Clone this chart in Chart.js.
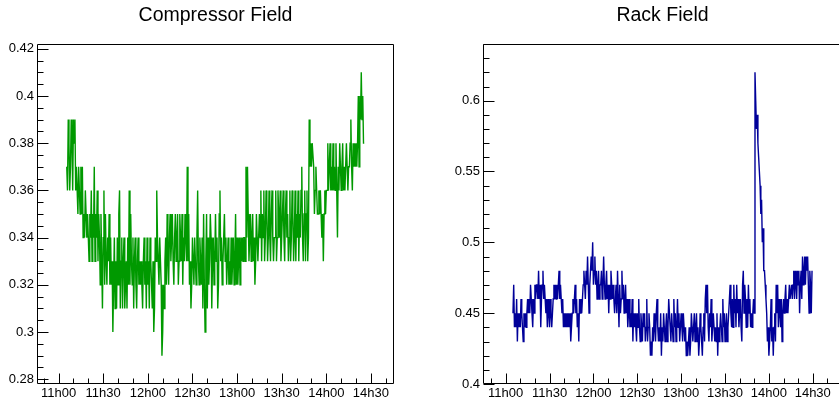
<!DOCTYPE html>
<html>
<head>
<meta charset="utf-8">
<script src="https://cdn.jsdelivr.net/npm/chart.js@4.4.1/dist/chart.umd.min.js"></script>
<style>
  html, body { margin: 0; padding: 0; background: #fff; overflow: hidden; }
  body { width: 839px; height: 399px; position: relative; }
  .pad { position: absolute; top: 0; height: 399px; }
  #leftPad { left: 0; width: 420px; }
  #rightPad { left: 420px; width: 422px; }
</style>
</head>
<body>
<div class="pad" id="leftPad"><canvas id="compressorChart" width="420" height="399"></canvas></div>
<div class="pad" id="rightPad"><canvas id="rackChart" width="422" height="399"></canvas></div>
<script>
// time axis labels (shared by both pads)
const timeTickLabels = ['11h00', '11h30', '12h00', '12h30', '13h00', '13h30', '14h00', '14h30'];

// y tick labels
const compressorYTicks = [0.28, 0.30, 0.32, 0.34, 0.36, 0.38, 0.40, 0.42];
const rackYTicks = [0.40, 0.45, 0.50, 0.55, 0.60];

// samples every 30 s, minutes since midnight of first sample
const compressorStart = 665.5;
const rackStart = 665;
const sampleStep = 0.5;

// readings in hundredths
const compressorField = [
  37,36,39,38,36,37,39,38,36,39,38,39,36,37,36,35,37,36,35,37,
  35,37,34,35,34,36,35,34,35,34,33,35,34,36,33,35,34,37,33,35,
  34,36,33,35,34,32,35,33,31,34,36,32,35,33,32,34,33,35,32,34,
  32,33,30,32,34,31,33,31,34,32,35,36,31,33,34,31,33,34,31,32,
  33,31,34,32,36,32,35,33,32,34,31,33,34,32,31,33,34,32,33,32,
  33,32,31,33,34,32,33,31,34,32,33,31,34,33,32,31,33,30,31,34,
  33,36,34,33,32,34,33,32,29,30,32,31,33,34,32,35,33,32,34,35,
  33,34,35,33,32,34,35,33,34,35,32,33,35,34,33,35,32,34,33,35,
  34,33,37,33,35,32,33,31,32,34,33,32,34,33,32,34,36,33,32,34,
  33,32,34,31,35,32,30,33,35,31,34,32,33,35,34,31,33,34,32,33,
  35,33,34,31,32,35,36,33,34,32,33,34,35,33,34,32,33,34,32,33,
  32,34,32,33,34,32,33,35,32,34,32,33,34,32,34,33,34,33,34,34,
  33,37,34,37,35,33,34,35,33,34,35,33,34,32,33,35,34,33,34,35,
  34,36,33,35,34,36,33,34,36,35,33,34,36,34,33,35,36,34,33,34,
  34,36,33,34,36,35,34,36,33,34,35,36,34,33,35,36,34,35,33,34,
  36,33,34,36,35,33,34,36,33,35,34,36,33,35,34,36,37,34,33,35,
  36,33,35,36,33,34,39,37,38,37,38,38,37,35,36,37,36,35,35,36,
  35,36,35,34,35,33,35,36,35,36,36,38,36,37,38,36,37,36,38,36,
  37,36,38,36,34,37,36,38,37,36,37,38,36,37,36,37,38,37,36,37,
  37,38,39,37,36,38,37,38,37,38,37,38,40,37,40,39,41,39,40,38,
  38
];

const rackField = [
  45,47,44,45,44,46,43,45,44,45,44,46,45,44,43,45,44,45,44,45,
  46,45,46,45,47,46,45,44,46,45,47,46,47,47,46,48,46,47,44,46,
  47,48,46,47,46,45,46,44,46,45,44,46,45,44,45,46,47,46,47,46,
  47,46,47,48,46,47,46,45,46,44,45,44,45,44,45,44,45,44,45,43,
  44,45,46,45,46,47,45,46,44,45,43,46,45,46,45,46,47,48,47,46,
  48,47,49,47,45,47,48,49,48,50,47,48,49,47,48,46,47,48,46,47,
  47,48,46,47,49,47,46,47,48,46,47,45,47,46,48,47,46,47,46,45,
  46,47,45,48,46,44,47,45,46,48,46,47,45,46,47,45,46,44,45,46,
  44,45,44,46,43,45,44,45,44,43,45,44,46,44,43,45,44,43,45,44,
  45,43,44,46,43,44,45,44,42,43,42,44,43,45,44,43,45,46,44,43,
  44,43,45,42,44,43,45,44,43,44,45,43,44,46,45,44,43,45,44,43,
  46,44,45,43,44,46,44,45,43,44,45,44,43,45,44,43,44,42,43,42,
  43,44,42,43,45,44,43,44,45,43,44,45,43,44,42,43,45,44,43,42,
  44,45,43,46,47,45,47,44,43,45,44,46,43,44,45,44,43,44,43,45,
  42,44,43,44,45,44,43,46,44,45,43,44,45,43,44,45,46,47,45,44,
  46,44,47,45,46,44,47,45,46,44,45,46,44,43,47,48,45,47,46,44,
  46,44,47,45,46,44,45,44,45,46,45,62,60,58,59,57,56,55,54,52,
  53,50,51,48,48,47,46,45,43,44,42,43,44,46,43,44,42,44,45,43,
  47,45,47,44,46,45,44,46,43,45,46,45,46,47,45,46,45,46,47,46,
  46,47,46,47,48,46,48,47,46,48,47,48,45,47,48,46,49,47,48,49,
  47,49,48,49,47,45,48,47,45,48
];

Chart.defaults.font.family = '"Liberation Sans", Arial, sans-serif';
Chart.defaults.color = '#000';

function toMinutes(label) {
  const [h, m] = label.split('h');
  return Number(h) * 60 + Number(m);
}

function toPoints(values, start) {
  return values.map((v, i) => ({ x: start + i * sampleStep, y: v / 100 }));
}

// ROOT-like frame with ticks pointing inwards, plus the pad title
const padFrame = {
  id: 'padFrame',
  afterDraw(chart, args, opts) {
    const { ctx, chartArea: a, scales: { x, y } } = chart;
    ctx.save();
    ctx.strokeStyle = '#000';
    ctx.lineWidth = 1;
    ctx.beginPath();
    const L = Math.round(a.left) + 0.5, R = Math.round(a.right) - 0.5;
    const T = Math.round(a.top) + 0.5, B = Math.round(a.bottom) - 0.5;
    ctx.moveTo(L, T); ctx.lineTo(R, T); ctx.lineTo(R, B); ctx.lineTo(L, B); ctx.closePath();

    // x ticks: minor every 10 min, major every 30 min
    for (let m = Math.ceil(x.min / 10) * 10; m <= x.max; m += 10) {
      const px = Math.round(x.getPixelForValue(m)) + 0.5;
      const len = m % 30 === 0 ? 10 : 5;
      ctx.moveTo(px, B); ctx.lineTo(px, B - len);
    }
    // y ticks
    const step = opts.yMinor;
    for (let k = Math.ceil(y.min / step - 1e-6); k * step <= y.max + 1e-9; k++) {
      const v = k * step;
      const py = Math.round(y.getPixelForValue(v)) + 0.5;
      const major = opts.yMajor.some(t => Math.abs(t - v) < 1e-6);
      ctx.moveTo(L, py); ctx.lineTo(L + (major ? 11 : 6), py);
    }
    ctx.stroke();

    ctx.fillStyle = '#000';
    ctx.font = '19.5px "Liberation Sans", Arial, sans-serif';
    ctx.textAlign = 'center';
    ctx.textBaseline = 'middle';
    ctx.fillText(opts.title, (a.left + a.right) / 2, 16);
    ctx.restore();
  }
};

function makePad(canvasId, title, values, start, color, xr, yr, yTicks, yMinor, yAxisWidth, rightGap) {
  return new Chart(document.getElementById(canvasId), {
    type: 'line',
    data: {
      datasets: [{
        data: toPoints(values, start),
        borderColor: color,
        borderWidth: 1.4,
        pointRadius: 0,
        tension: 0,
        fill: false
      }]
    },
    options: {
      responsive: false,
      animation: false,
      events: [],
      layout: { padding: { top: 44, left: 0, right: rightGap, bottom: 0 } },
      plugins: {
        legend: { display: false },
        tooltip: { enabled: false },
        padFrame: { title: title, yMajor: yTicks, yMinor: yMinor }
      },
      scales: {
        x: {
          type: 'linear',
          min: xr[0],
          max: xr[1],
          grid: { display: false, drawTicks: false },
          border: { display: false },
          afterBuildTicks: s => { s.ticks = timeTickLabels.map(l => ({ value: toMinutes(l) })); },
          afterFit: s => { s.height = 15; },
          ticks: {
            autoSkip: false,
            maxRotation: 0,
            padding: 2,
            font: { size: 13 },
            callback: (v, i) => timeTickLabels[i]
          }
        },
        y: {
          min: yr[0],
          max: yr[1],
          grid: { display: false, drawTicks: false },
          border: { display: false },
          afterBuildTicks: s => { s.ticks = yTicks.map(v => ({ value: v })); },
          afterFit: s => { s.width = yAxisWidth; },
          ticks: {
            padding: 3,
            font: { size: 13 },
            callback: v => String(parseFloat(v.toFixed(3)))
          }
        }
      }
    },
    plugins: [padFrame]
  });
}

makePad('compressorChart', 'Compressor Field', compressorField, compressorStart,
  '#009900', [645.5, 885.5], [0.278, 0.422], compressorYTicks, 0.005, 37, 26);
makePad('rackChart', 'Rack Field', rackField, rackStart,
  '#000099', [644.5, 890], [0.40, 0.64], rackYTicks, 0.01, 63, 0);
</script>
</body>
</html>
